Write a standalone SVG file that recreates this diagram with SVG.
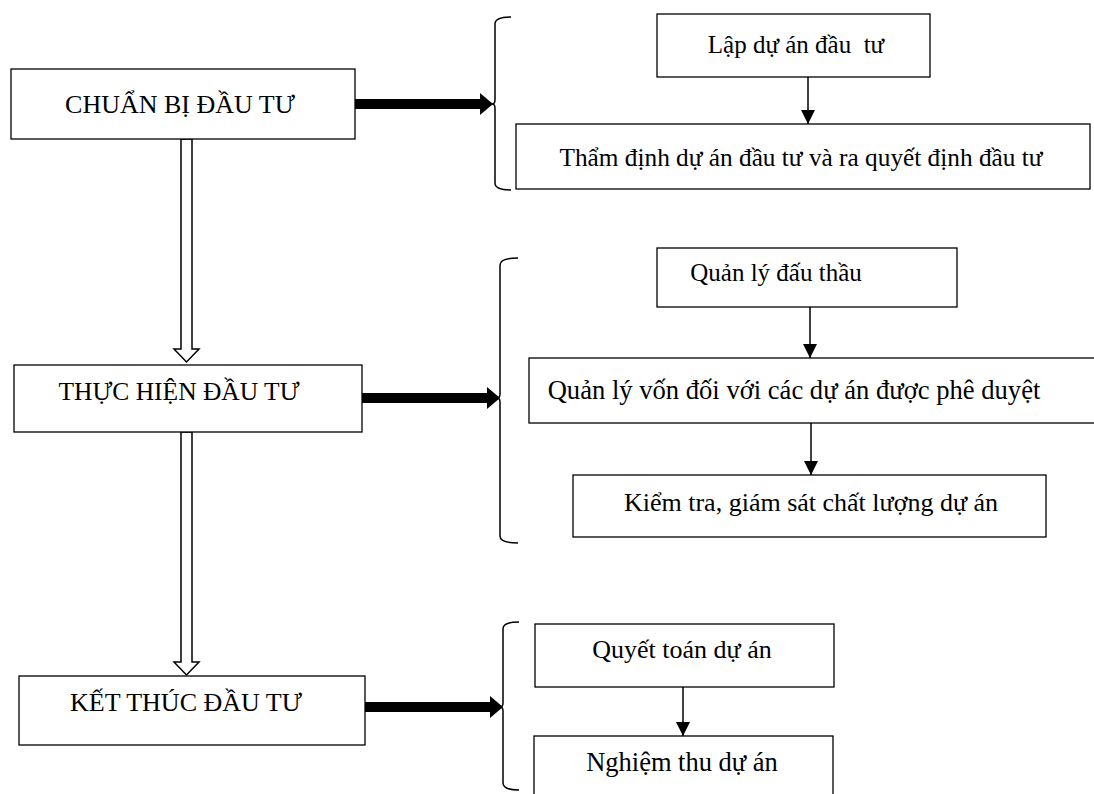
<svg xmlns="http://www.w3.org/2000/svg" width="1094" height="794" viewBox="0 0 1094 794">
<style>
.box{fill:#fff;stroke:#000;stroke-width:1.3}
.t{font-family:"Liberation Serif","Times New Roman",serif;font-size:26px;fill:#000;text-anchor:middle;white-space:pre}
.ln{stroke:#000;stroke-width:1.5;fill:none}
.thick{stroke:#000;stroke-width:10;fill:none}
.hollow{fill:#fff;stroke:#000;stroke-width:1.5}
.brace{fill:none;stroke:#000;stroke-width:1.5}
</style>
<defs>
<marker id="ahs" markerWidth="14" markerHeight="14" refX="14" refY="7" orient="auto" markerUnits="userSpaceOnUse" viewBox="0 0 14 14">
<path d="M0,0 L14,7 L0,14 Z" fill="#000"/>
</marker>
</defs>
<rect width="1094" height="794" fill="#fff"/>
<g id="connectors">
<path class="hollow" d="M181,139 L192,139 L192,349 L199,349 L186.5,362 L174,349 L181,349 Z"/>
<path class="hollow" d="M181,432 L192,432 L192,662 L199,662 L186.5,675 L174,662 L181,662 Z"/>
<line class="thick" x1="355" y1="104" x2="482" y2="104"/>
<path d="M480,93 L493,104 L480,115 Z" fill="#000"/>
<line class="thick" x1="362" y1="398" x2="489" y2="398"/>
<path d="M487,387 L500,398 L487,409 Z" fill="#000"/>
<line class="thick" x1="365" y1="707" x2="492" y2="707"/>
<path d="M490,696 L503,707 L490,718 Z" fill="#000"/>
<path class="brace" d="M511,17 Q495,17 495,24 L495,100 Q495,104 492,104 Q495,104 495,108 L495,183 Q495,190 511,190"/>
<path class="brace" d="M518,258 Q500,258 500,265 L500,394 Q500,398 497,398 Q500,398 500,402 L500,536 Q500,543 518,543"/>
<path class="brace" d="M519,622 Q503,622 503,629 L503,703 Q503,707 500,707 Q503,707 503,711 L503,783 Q503,790 519,790"/>
<line class="ln" x1="808" y1="77" x2="808" y2="124" marker-end="url(#ahs)"/>
<line class="ln" x1="810" y1="307" x2="810" y2="358" marker-end="url(#ahs)"/>
<line class="ln" x1="811" y1="423" x2="811" y2="475" marker-end="url(#ahs)"/>
<line class="ln" x1="683" y1="687" x2="683" y2="736" marker-end="url(#ahs)"/>
</g>
<g id="n-chuanbi"><rect class="box" x="11" y="69" width="344" height="70"/><text class="t" x="180" y="113">CHUẨN BỊ ĐẦU TƯ</text></g>
<g id="n-thuchien"><rect class="box" x="14" y="365" width="348" height="67"/><text class="t" x="179" y="400" style="font-size:25.5px">THỰC HIỆN ĐẦU TƯ</text></g>
<g id="n-ketthuc"><rect class="box" x="19" y="676" width="346" height="69"/><text class="t" x="186" y="711">KẾT THÚC ĐẦU TƯ</text></g>
<g id="n-lap"><rect class="box" x="657" y="14" width="273" height="63"/><text class="t" x="796" y="53" xml:space="preserve" style="font-size:25px">Lập dự án đầu  tư</text></g>
<g id="n-thamdinh"><rect class="box" x="516" y="124" width="574" height="65"/><text class="t" x="801" y="166" style="font-size:25.3px">Thẩm định dự án đầu tư và ra quyết định đầu tư</text></g>
<g id="n-dauthau"><rect class="box" x="657" y="248" width="300" height="59"/><text class="t" x="776" y="281" style="font-size:25px">Quản lý đấu thầu</text></g>
<g id="n-von"><rect class="box" x="529" y="358" width="570" height="65"/><text class="t" x="794" y="399" style="font-size:26.6px">Quản lý vốn đối với các dự án được phê duyệt</text></g>
<g id="n-kiemtra"><rect class="box" x="573" y="475" width="473" height="62"/><text class="t" x="811" y="511">Kiểm tra, giám sát chất lượng dự án</text></g>
<g id="n-quyettoan"><rect class="box" x="535" y="624" width="299" height="63"/><text class="t" x="682" y="658">Quyết toán dự án</text></g>
<g id="n-nghiemthu"><rect class="box" x="534" y="736" width="299" height="62"/><text class="t" x="682" y="771" style="font-size:26.5px">Nghiệm thu dự án</text></g>
</svg>
